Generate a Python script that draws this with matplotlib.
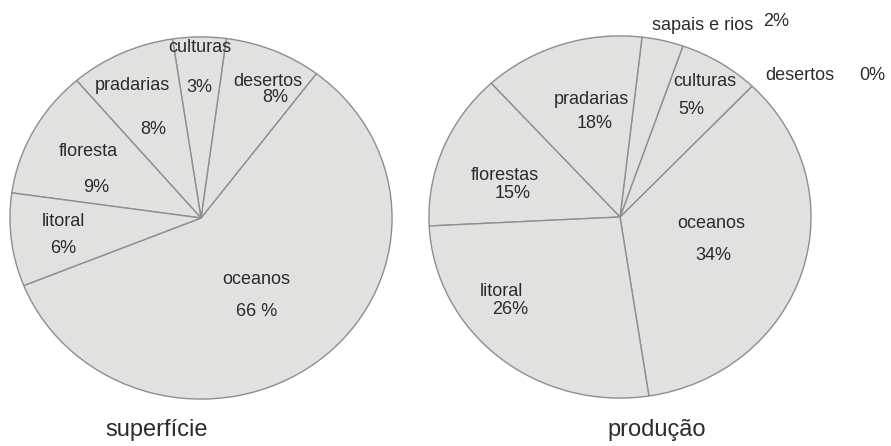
import matplotlib.pyplot as plt

plt.rcParams['font.family'] = ['Liberation Sans', 'DejaVu Sans']

W, H = 891, 446

# superficie - wedge sizes, labels as printed
sup_names = ['oceanos', 'desertos', 'culturas', 'pradarias', 'floresta', 'litoral']
sup_sizes = [58.6, 8.2, 4.5, 8.9, 11.5, 8.3]
sup_pct = ['66 %', '8%', '3%', '8%', '9%', '6%']

# producao
prod_names = ['oceanos', 'culturas', 'sapais e rios', 'pradarias', 'florestas', 'litoral']
prod_sizes = [35.4, 6.8, 3.5, 13.6, 14.0, 26.6]
prod_pct = ['34%', '5%', '2%', '18%', '15%', '26%']
prod_extra_name = 'desertos'
prod_extra_pct = '0%'

fill = '#e1e1df'
edge = '#8e8e8e'
txt = '#2b2b2b'

fig = plt.figure(figsize=(W / 100, H / 100), dpi=100)


def make_pie(cx, cy, sizes, start):
	ax = fig.add_axes([(cx - 192) / W, (H - cy - 182) / H, 384 / W, 364 / H])
	ax.pie(sizes, startangle=start, counterclock=True, colors=[fill] * len(sizes),
		   wedgeprops={'edgecolor': edge, 'linewidth': 1.0})
	ax.set_aspect('auto')
	ax.set_xlim(-1.005, 1.005)
	ax.set_ylim(-1.005, 1.005)
	ax.axis('off')
	return ax


make_pie(201, 218, sup_sizes, 201.9)
make_pie(620, 217, prod_sizes, 278.7)


def put(x, y, s, size=13, ha='center'):
	fig.text(x / W, 1 - y / H, s, ha=ha, va='center', fontsize=size, color=txt)


# label positions in pixels (name, percent)
sup_name_pos = [(256, 279), (268, 81), (200, 48), (132, 86), (88, 151), (63, 222)]
sup_pct_pos = [(257, 312), (275, 98), (199, 87), (153, 129), (96, 187), (63, 248)]
prod_name_pos = [(711, 224), (705, 82), (703, 26), (591, 100), (505, 175), (501, 292)]
prod_pct_pos = [(713, 255), (691, 110), (776, 22), (595, 123), (513, 193), (510, 309)]

for n, p, (nx, ny), (px, py) in zip(sup_names, sup_pct, sup_name_pos, sup_pct_pos):
	put(nx, ny, n)
	put(px, py, p)

for n, p, (nx, ny), (px, py) in zip(prod_names, prod_pct, prod_name_pos, prod_pct_pos):
	put(nx, ny, n)
	put(px, py, p)

put(800, 76, prod_extra_name)
put(872, 76, prod_extra_pct)

put(157, 430, 'superfície', size=17)
put(657, 430, 'produção', size=17)

plt.savefig('out.png', dpi=100)
